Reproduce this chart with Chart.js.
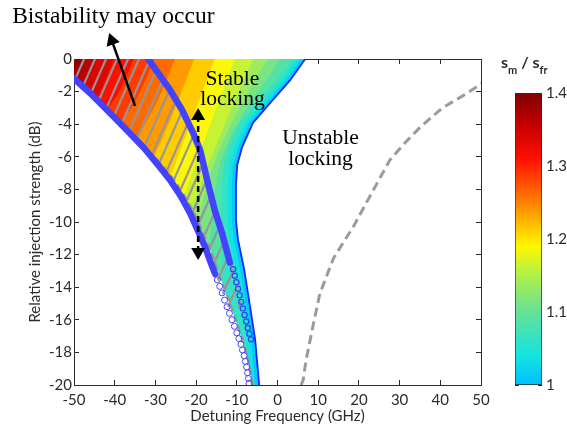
<!DOCTYPE html>
<html><head><meta charset="utf-8">
<script src="https://cdn.jsdelivr.net/npm/chart.js@4/dist/chart.umd.min.js"></script>
<style>
html,body{margin:0;padding:0;background:#fff;}
#wrap{position:relative;width:567px;height:431px;overflow:hidden;}
canvas{position:absolute;}
</style>
</head><body>
<div id="wrap">
<canvas id="main" width="567" height="431" style="left:0;top:0;width:567px;height:431px"></canvas>
<canvas id="cbar" width="67" height="370" style="left:500px;top:40px;width:67px;height:370px"></canvas>
</div>
<script>
// ---------------- data ----------------
const xRange = [-50, 50];
const yRange = [-20, 0];
const xStep = 10, yStep = 2;
const colorbarTicks = [1, 1.1, 1.2, 1.3, 1.4];

// contour levels of s_m / s_fr (lowest level = stable-locking edge)
const contourLevels = [1.0, 1.025, 1.05, 1.075, 1.1, 1.125, 1.15, 1.175, 1.2, 1.225, 1.25, 1.275, 1.3, 1.325, 1.35, 1.375];

const stableEdge = [[6.8,0],[3.1,-1.3],[-1.1,-2.5],[-6.0,-3.9],[-8.7,-5.4],[-9.9,-6.5],[-10.2,-7.7],[-10.2,-9.9],[-9.7,-11.1],[-8.2,-12.9],[-6.8,-15.1],[-5.5,-17.2],[-4.5,-20]];
const c1025 = [[5.8,0],[2.1,-1.3],[-2.1,-2.5],[-7.0,-3.9],[-9.7,-5.4],[-10.9,-6.5],[-11.2,-7.7],[-11.2,-9.9],[-10.7,-11.1],[-9.2,-12.9],[-7.8,-15.1],[-6.5,-17.2],[-5.5,-20]];
const c1050 = [[4.8,0],[1.1,-1.3],[-3.1,-2.5],[-8.0,-3.9],[-10.7,-5.4],[-11.9,-6.5],[-12.2,-7.7],[-12.2,-9.9],[-11.7,-11.1],[-10.2,-12.9],[-8.8,-15.1],[-7.6,-17.2],[-7.3,-18.4]];
const c1075 = [[3.6,0],[-0.2,-1.3],[-4.3,-2.5],[-9.2,-3.9],[-12.0,-5.4],[-13.2,-6.5],[-13.6,-7.7],[-13.8,-9.9],[-13.6,-11.5],[-13.5,-13.0],[-13.55,-13.65]];
const c1100 = [[0.8,0],[-3.0,-1.4],[-7.0,-2.8],[-11.1,-4.5],[-13.9,-6.2],[-15.4,-8.0],[-16.2,-9.8],[-16.6,-11.0],[-16.7,-11.55]];
const c1125 = [[-2.5,0],[-6.2,-1.6],[-10.2,-3.4],[-14.1,-5.4],[-16.9,-7.3],[-18.7,-9.1],[-19.3,-10.1]];
const c1150 = [[-6.0,0],[-9.2,-1.8],[-12.8,-3.9],[-16.4,-6.1],[-19.6,-8.2],[-21.3,-9.2]];
const c1175 = [[-10.5,0],[-13.5,-2.0],[-16.8,-4.2],[-20.1,-6.4],[-22.9,-8.4]];
const c1200 = [[-15.5,0],[-18.3,-1.9],[-21.3,-3.9],[-24.0,-5.7],[-26.2,-7.15]];
const c1225 = [[-20.5,0],[-23.1,-1.7],[-26.1,-3.6],[-28.9,-5.2],[-30.4,-6.0]];
const c1250 = [[-25.2,0],[-27.6,-1.5],[-30.5,-3.1],[-34.8,-4.95]];
const c1275 = [[-30.3,0],[-32.5,-1.3],[-35.1,-2.7],[-38.7,-3.95]];
const c1300 = [[-35.3,0],[-37.2,-1.1],[-39.3,-2.2],[-41.9,-3.13]];
const c1325 = [[-40.3,0],[-41.7,-0.9],[-43.2,-1.8],[-44.6,-2.45]];
const c1350 = [[-44.4,0],[-45.5,-0.7],[-46.7,-1.3],[-47.9,-1.7]];
const c1375 = [[-47.5,0],[-48.6,-0.45],[-49.4,-0.8],[-50,-1.0]];
const contourLines = [stableEdge, c1025, c1050, c1075, c1100, c1125, c1150, c1175, c1200, c1225, c1250, c1275, c1300, c1325, c1350, c1375];

// lower locking boundary (blue markers)
const lowerBoundThick = [[-50,-1.2],[-46,-2.1],[-41.9,-3.13],[-37.3,-4.3],[-32.8,-5.46],[-29.5,-6.45],[-26.4,-7.42],[-23.8,-8.4],[-21.5,-9.45],[-19.6,-10.5],[-17.8,-11.53],[-16.4,-12.5],[-15.3,-13.2]];
const lowerBoundOpen = [[-14.8,-13.55],[-14.2,-13.95],[-13.6,-14.35],[-13.0,-14.8],[-12.4,-15.2],[-11.8,-15.6],[-11.2,-16.0],[-10.6,-16.4],[-10.0,-16.8],[-9.5,-17.15],[-9.0,-17.5],[-8.6,-17.85],[-8.2,-18.2],[-7.9,-18.55],[-7.6,-18.9],[-7.35,-19.25],[-7.15,-19.6],[-7.0,-19.9]];
// bistability upper boundary (blue markers)
const upperBoundThick = [[-31.8,0],[-28.9,-1.0],[-26.4,-1.9],[-23.5,-3.1],[-20.8,-4.5],[-19.0,-5.6],[-17.1,-7.6],[-15.4,-9.3],[-13.6,-10.7],[-11.7,-12.5]];
const upperBoundOpen = [[-10.9,-12.9],[-10.5,-13.3],[-10.1,-13.7],[-9.7,-14.1],[-9.3,-14.5],[-8.9,-14.9],[-8.5,-15.3],[-8.1,-15.7],[-7.7,-16.1],[-7.3,-16.5],[-6.9,-16.85],[-6.5,-17.2]];
// grey dashed theoretical boundaries
const grayLeft = [[-31.7,-5.65],[-28.0,-6.6],[-24.9,-7.6],[-22.4,-8.6],[-20.1,-9.65],[-18.25,-10.7],[-16.5,-11.7],[-14.9,-12.8],[-13.25,-13.9],[-11.8,-14.9],[-10.5,-15.8],[-9.2,-16.8],[-8.0,-17.7],[-7.1,-18.6],[-6.6,-19.3],[-6.2,-20]];
const grayRight = [[5.8,-20],[6.3,-19.7],[7.0,-18.5],[8.7,-16.4],[10.4,-14.4],[13.8,-12.2],[18.6,-10.3],[23.2,-8.2],[27.6,-6.2],[31.5,-5.1],[35.0,-4.2],[40.5,-3.0],[46.6,-2.1],[50.2,-1.5]];

// arrows: [start, head centre]
const arrowBistability = [[-35.0,-2.88],[-40.7,1.13]];
const arrowRange = [[-19.5,-3.5],[-19.5,-11.84]];

// colour map of the colour bar
const cmapValues = [1.00, 1.04, 1.10, 1.15, 1.19, 1.25, 1.31, 1.36, 1.40];
const cmapColors = [[0,190,255],[20,228,225],[100,225,150],[175,240,75],[255,248,0],[255,130,0],[255,15,0],[190,0,0],[128,0,0]];

const xTitle = 'Detuning Frequency (GHz)';
const yTitle = 'Relative injection strength (dB)';
const annotations = [
  {lines:['Bistability may occur'], x:-65.2, y:2.21, align:'left', font:'23.5px "Liberation Serif"', gap:0},
  {lines:['Stable','locking'], x:-11.06, y:-1.6, align:'center', font:'21.5px "Liberation Serif"', gap:20},
  {lines:['Unstable','locking'], x:10.57, y:-5.21, align:'center', font:'21.5px "Liberation Serif"', gap:21}
];

// ---------------- helpers ----------------
const AX = '#2b2b2b';
Chart.defaults.font.family = 'Lato';
Chart.defaults.color = AX;

function cmap(v){
  if (v <= cmapValues[0]) return cmapColors[0];
  for (let i = 1; i < cmapValues.length; i++) {
    if (v <= cmapValues[i]) {
      const t = (v - cmapValues[i-1]) / (cmapValues[i] - cmapValues[i-1]);
      return cmapColors[i-1].map((c,k)=>Math.round(c + t*(cmapColors[i][k]-c)));
    }
  }
  return cmapColors[cmapColors.length-1];
}
const rgb = c => `rgb(${c[0]},${c[1]},${c[2]})`;
const pts = arr => arr.map(([x,y]) => ({x, y}));
function ds(arr, opts){
  return Object.assign({data: pts(arr), showLine:true, fill:false, pointRadius:0, pointHoverRadius:0,
    borderWidth:0, borderColor:'rgba(0,0,0,0)', backgroundColor:'rgba(0,0,0,0)', tension:0, spanGaps:true}, opts);
}

// region left boundary: thick lower boundary above the grey curve, then the grey curve
const regionLeft = lowerBoundThick.filter(p => p[1] > grayLeft[0][1]).concat(grayLeft);

function bandPolygon(line){
  const last = line[line.length-1];
  const up = regionLeft.filter(p => p[1] > last[1] || (p[1] === last[1] && p[0] < last[0])).reverse();
  return [[xRange[0], yRange[1]], ...line, ...up];
}

// hatch pattern
const mainCanvas = document.getElementById('main');
const mctx = mainCanvas.getContext('2d');
const tile = document.createElement('canvas');
tile.width = 11; tile.height = 25;
const tctx = tile.getContext('2d');
tctx.strokeStyle = 'rgb(150,150,150)';
tctx.lineWidth = 2.2;
for (const off of [-11, 0, 11]) { tctx.beginPath(); tctx.moveTo(off, 25); tctx.lineTo(off + 11, 0); tctx.stroke(); }
const hatch = mctx.createPattern(tile, 'repeat');

// ---------------- datasets ----------------
const datasets = [];
contourLines.forEach((line, k) => {
  const lo = contourLevels[k];
  const hi = k + 1 < contourLevels.length ? contourLevels[k+1] : 1.4;
  datasets.push(ds(bandPolygon(line), {fill:'shape', backgroundColor: rgb(cmap((lo+hi)/2)), order: 200 - k}));
});

const hatchCut = -15.4;
const upperAll = upperBoundThick.concat(upperBoundOpen).filter(p => p[1] >= hatchCut);
const lowerAll = lowerBoundThick.concat(lowerBoundOpen).filter(p => p[1] >= hatchCut);
datasets.push(ds([[xRange[0], yRange[1]], ...upperAll, ...lowerAll.slice().reverse()], {fill:'shape', backgroundColor: hatch, order: 120}));

const BLUE = 'rgb(66,66,255)';
datasets.push(ds(stableEdge, {borderColor:'rgb(10,40,255)', borderWidth:1.8, order:110}));
datasets.push(ds(grayLeft, {borderColor:'rgb(150,150,150)', borderWidth:2.5, borderDash:[7,4], order:105}));
datasets.push(ds(grayRight, {borderColor:'rgb(155,155,155)', borderWidth:3, borderDash:[9,5], order:105}));
datasets.push(ds(upperBoundThick, {borderColor:BLUE, borderWidth:6.5, borderCapStyle:'round', borderJoinStyle:'round', order:90}));
datasets.push(ds(lowerBoundThick, {borderColor:BLUE, borderWidth:6.5, borderCapStyle:'round', borderJoinStyle:'round', order:90}));
datasets.push(ds(upperBoundOpen, {showLine:false, pointRadius:2.6, pointBorderWidth:1.2, pointBorderColor:'rgb(60,60,240)', pointBackgroundColor:'rgba(0,0,0,0)', order:80}));
datasets.push(ds(lowerBoundOpen, {showLine:false, pointRadius:3, pointBorderWidth:1, pointBorderColor:'rgb(70,70,255)', pointBackgroundColor:'rgba(0,0,0,0)', order:80}));
datasets.push(ds(arrowRange, {borderColor:'#000', borderWidth:2.5, borderDash:[6,4], pointRadius:8, pointStyle:'triangle', pointRotation:[0,180], pointBackgroundColor:'#000', pointBorderWidth:0, order:20}));
// wide transparent point border keeps the head (outside the plot box) from being culled
datasets.push(ds(arrowBistability, {borderColor:'#000', borderWidth:2.5, pointRadius:[0,8], pointStyle:'triangle', pointRotation:[0,-19.6], pointBackgroundColor:'#000', pointBorderWidth:30, pointBorderColor:'rgba(0,0,0,0)', clip:false, order:10}));

// ---------------- plugins ----------------
const annotationPlugin = {
  id:'annot',
  afterDatasetsDraw(chart){
    const {ctx, scales:{x, y}} = chart;
    ctx.save();
    ctx.fillStyle = '#000';
    ctx.textBaseline = 'alphabetic';
    for (const a of annotations) {
      ctx.font = a.font; ctx.textAlign = a.align;
      a.lines.forEach((t, i) => ctx.fillText(t, x.getPixelForValue(a.x), y.getPixelForValue(a.y) + i*a.gap));
    }
    ctx.restore();
  }
};

const gridOpts = {drawOnChartArea:false, tickLength:-5, color:AX, lineWidth:1};
const borderOpts = {display:true, color:AX, width:1};

new Chart(mainCanvas, {
  type:'line',
  data:{datasets},
  options:{
    responsive:false, animation:false, events:[], devicePixelRatio:1,
    layout:{padding:{left:0, right:86, top:59, bottom:0}},
    plugins:{legend:{display:false}, tooltip:{enabled:false}},
    scales:{
      x:{type:'linear', position:'bottom', min:xRange[0], max:xRange[1],
         ticks:{stepSize:xStep, padding:11, color:AX, font:{size:15}, maxRotation:0, autoSkip:false},
         grid:gridOpts, border:borderOpts,
         title:{display:true, text:xTitle, color:AX, font:{size:15}, padding:{top:0, bottom:6}},
         afterFit:s => { s.height = 46; }},
      y:{type:'linear', position:'left', min:yRange[0], max:yRange[1],
         ticks:{stepSize:yStep, padding:7, color:AX, font:{size:15}, autoSkip:false},
         grid:gridOpts, border:borderOpts,
         title:{display:true, text:yTitle, color:AX, font:{size:15}, padding:{top:26, bottom:0}},
         afterFit:s => { s.width = 74; }},
      x2:{type:'linear', position:'top', min:xRange[0], max:xRange[1],
         ticks:{display:false, stepSize:xStep}, grid:gridOpts, border:borderOpts,
         afterFit:s => { s.height = 0; }},
      y2:{type:'linear', position:'right', min:yRange[0], max:yRange[1],
         ticks:{display:false, stepSize:yStep}, grid:gridOpts, border:borderOpts,
         afterFit:s => { s.width = 0; }}
    }
  },
  plugins:[annotationPlugin]
});

// ---------------- colour bar ----------------
const cbarTitle = {
  id:'cbt',
  afterDraw(chart){
    const ctx = chart.ctx;
    ctx.save();
    ctx.fillStyle = AX; ctx.textBaseline = 'alphabetic'; ctx.textAlign = 'left';
    const parts = [['s','bold 16px Lato',0],['m','bold 11px Lato',6],[' / ','bold 16px Lato',0],['s','bold 16px Lato',0],['fr','bold 11px Lato',6]];
    let x = 1;
    for (const [t, f, dy] of parts) { ctx.font = f; ctx.fillText(t, x, 28 + dy); x += ctx.measureText(t).width; }
    ctx.restore();
  }
};
const cbGrid = {drawOnChartArea:false, tickLength:-4, color:AX, lineWidth:1};
new Chart(document.getElementById('cbar'), {
  type:'bar',
  data:{labels:['c'], datasets:[{
    data:[[colorbarTicks[0], colorbarTicks[colorbarTicks.length-1]]],
    backgroundColor:(c) => {
      const a = c.chart.chartArea;
      if (!a) return 'rgba(0,0,0,0)';
      const g = c.chart.ctx.createLinearGradient(0, a.bottom, 0, a.top);
      cmapValues.forEach((v, i) => g.addColorStop((v - 1) / 0.4, rgb(cmapColors[i])));
      return g;
    },
    borderColor:AX, borderWidth:1, borderSkipped:false, barPercentage:1, categoryPercentage:1
  }]},
  options:{
    responsive:false, animation:false, events:[], devicePixelRatio:1,
    layout:{padding:{left:15, top:53, bottom:25, right:0}},
    plugins:{legend:{display:false}, tooltip:{enabled:false}},
    scales:{
      x:{display:false},
      y:{position:'right', min:1, max:1.4,
         afterBuildTicks:s => { s.ticks = colorbarTicks.map(v => ({value:v})); },
         ticks:{padding:8, font:{size:15}, color:AX, callback:v => String(Math.round(v*10)/10)},
         grid:cbGrid, border:{display:false}, afterFit:s => { s.width = 25; }},
      y2:{position:'left', min:1, max:1.4,
         afterBuildTicks:s => { s.ticks = colorbarTicks.map(v => ({value:v})); },
         ticks:{display:false}, grid:cbGrid, border:{display:false}, afterFit:s => { s.width = 0; }}
    }
  },
  plugins:[cbarTitle]
});
</script>
</body></html>
